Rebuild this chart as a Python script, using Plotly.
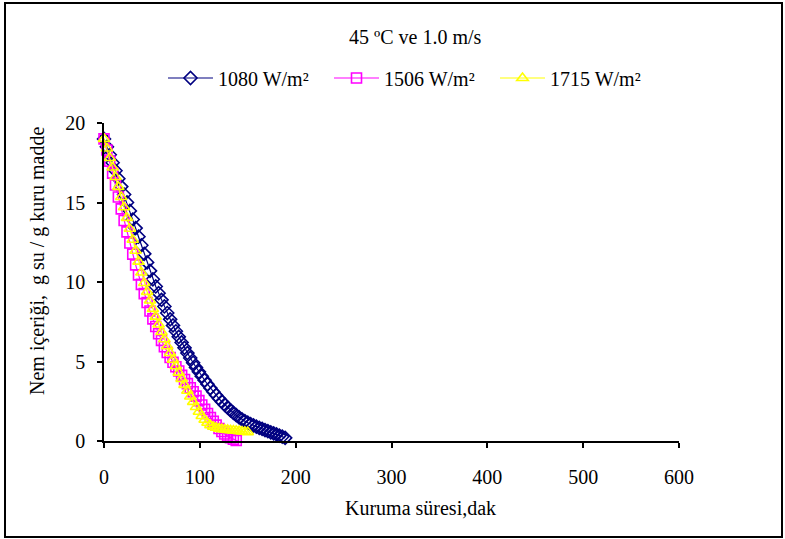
import plotly.graph_objects as go

# ---- data ----
t_1080 = [0, 3, 6, 9, 12, 15, 18, 21, 24, 27, 30, 33, 36, 39, 42, 45, 48, 51, 54, 57,
          60, 63, 66, 69, 72, 75, 78, 81, 84, 87, 90, 93, 96, 99, 102, 105, 108, 111,
          114, 117, 120, 123, 126, 129, 132, 135, 138, 141, 144, 147, 150, 153, 156,
          159, 162, 165, 168, 171, 174, 177, 180, 183, 186, 189]
m_1080 = [19.0, 18.5, 18.0, 17.5, 17.0, 16.5, 16.0, 15.5, 15.0, 14.47, 13.93, 13.39,
          12.85, 12.31, 11.77, 11.23, 10.7, 10.17, 9.72, 9.3, 8.88, 8.46, 8.05, 7.65,
          7.27, 6.9, 6.55, 6.2, 5.86, 5.53, 5.22, 4.92, 4.63, 4.35, 4.08, 3.82, 3.57,
          3.33, 3.1, 2.88, 2.67, 2.47, 2.28, 2.1, 1.93, 1.77, 1.62, 1.48, 1.36, 1.25,
          1.15, 1.06, 0.98, 0.9, 0.83, 0.76, 0.69, 0.62, 0.55, 0.48, 0.41, 0.34, 0.27, 0.2]

t_1506 = [0, 3, 6, 9, 12, 15, 18, 21, 24, 27, 30, 33, 36, 39, 42, 45, 48, 51, 54, 57,
          60, 63, 66, 69, 72, 75, 78, 81, 84, 87, 90, 93, 96, 99, 102, 105, 108, 111,
          114, 117, 120, 123, 126, 129, 132, 135, 138, 141, 144]
m_1506 = [19.0, 18.3, 17.6, 16.85, 16.1, 15.35, 14.6, 13.87, 13.15, 12.45, 11.75, 11.08,
          10.45, 9.85, 9.27, 8.71, 8.18, 7.68, 7.2, 6.75, 6.33, 5.93, 5.57, 5.25, 4.95,
          4.67, 4.4, 4.13, 3.87, 3.61, 3.35, 3.1, 2.82, 2.54, 2.26, 1.99, 1.73, 1.48,
          1.24, 1.0, 0.79, 0.6, 0.44, 0.31, 0.2, 0.11, 0.03, -0.04, -0.1]

t_1715 = [0, 3, 6, 9, 12, 15, 18, 21, 24, 27, 30, 33, 36, 39, 42, 45, 48, 51, 54, 57,
          60, 63, 66, 69, 72, 75, 78, 81, 84, 87, 90, 93, 96, 99, 102, 105, 108, 111,
          114, 117, 120, 123, 126, 129, 132, 135, 138, 141, 144, 147, 150]
m_1715 = [19.0, 18.4, 17.8, 17.2, 16.6, 15.98, 15.35, 14.7, 14.03, 13.35, 12.66, 11.97,
          11.28, 10.6, 9.94, 9.38, 8.84, 8.31, 7.82, 7.33, 6.86, 6.4, 5.96, 5.53, 5.11,
          4.7, 4.3, 3.91, 3.53, 3.16, 2.8, 2.46, 2.14, 1.84, 1.57, 1.34, 1.15, 1.0, 0.9,
          0.83, 0.78, 0.75, 0.72, 0.7, 0.68, 0.66, 0.64, 0.62, 0.6, 0.58, 0.56]

series_names = ["1080 W/m²", "1506 W/m²", "1715 W/m²"]
x_ticks = [0, 100, 200, 300, 400, 500, 600]
y_ticks = [0, 5, 10, 15, 20]

title_text = "45 ºC ve 1.0 m/s"
x_title = "Kuruma süresi,dak"
y_title = "Nem içeriği,  g su / g kuru madde"

# ---- figure ----
W, H = 785, 539
ML, MR, MT, MB = 104, 106, 123, 98
PW, PH = W - ML - MR, H - MT - MB
FONT = "Liberation Serif, Times New Roman, serif"


def px2x(px):
    return (px - ML) / PW


def py2y(py):
    return (H - MB - py) / PH


fig = go.Figure()
fig.add_trace(go.Scatter(
    x=t_1080, y=m_1080, name=series_names[0], mode="lines+markers",
    line=dict(color="#000080", width=1.2),
    marker=dict(symbol="diamond-open", size=10, color="#000080", line=dict(width=1.6)),
    cliponaxis=False))
fig.add_trace(go.Scatter(
    x=t_1506, y=m_1506, name=series_names[1], mode="lines+markers",
    line=dict(color="#FF00FF", width=1.2),
    marker=dict(symbol="square-open", size=10, color="#FF00FF", line=dict(width=1.6)),
    cliponaxis=False))
fig.add_trace(go.Scatter(
    x=t_1715, y=m_1715, name=series_names[2], mode="lines+markers",
    line=dict(color="#FFFF00", width=1.2),
    marker=dict(symbol="triangle-up-open", size=10, color="#FFFF00", line=dict(width=1.6)),
    cliponaxis=False))

fig.update_layout(
    width=W, height=H,
    margin=dict(l=ML, r=MR, t=MT, b=MB),
    paper_bgcolor="white", plot_bgcolor="white",
    font=dict(family=FONT, size=20, color="black"),
    showlegend=True,
    legend=dict(orientation="h", x=px2x(163), xanchor="left",
                y=py2y(78), yanchor="middle",
                font=dict(family=FONT, size=20, color="black"),
                bgcolor="rgba(0,0,0,0)", itemwidth=45, entrywidth=106,
                tracegroupgap=0),
    xaxis=dict(range=[0, 600], tickvals=x_ticks, showgrid=False, zeroline=False,
               showline=True, linecolor="black", linewidth=1.5,
               ticks="outside", ticklen=5, tickwidth=1.5, tickcolor="black",
               ticklabelstandoff=12,
               tickfont=dict(family=FONT, size=20, color="black")),
    yaxis=dict(range=[0, 20], tickvals=y_ticks, showgrid=False, zeroline=False,
               showline=True, linecolor="black", linewidth=1.5,
               ticks="outside", ticklen=5, tickwidth=1.5, tickcolor="black",
               ticklabelstandoff=8,
               tickfont=dict(family=FONT, size=20, color="black")),
    annotations=[
        dict(text=title_text, x=px2x(415), y=py2y(37), xref="paper", yref="paper",
             showarrow=False, xanchor="center", yanchor="middle",
             font=dict(family=FONT, size=20, color="black")),
        dict(text=x_title, x=px2x(420), y=py2y(508), xref="paper", yref="paper",
             showarrow=False, xanchor="center", yanchor="middle",
             font=dict(family=FONT, size=20, color="black")),
        dict(text=y_title, x=px2x(37), y=py2y(261), xref="paper", yref="paper",
             showarrow=False, xanchor="center", yanchor="middle", textangle=-90,
             font=dict(family=FONT, size=20, color="black")),
    ],
    shapes=[
        dict(type="rect", xref="paper", yref="paper",
             x0=px2x(5), x1=px2x(782), y0=py2y(537), y1=py2y(3),
             line=dict(color="black", width=2), fillcolor="rgba(0,0,0,0)",
             layer="below"),
    ],
)

fig.write_html("out.html")
